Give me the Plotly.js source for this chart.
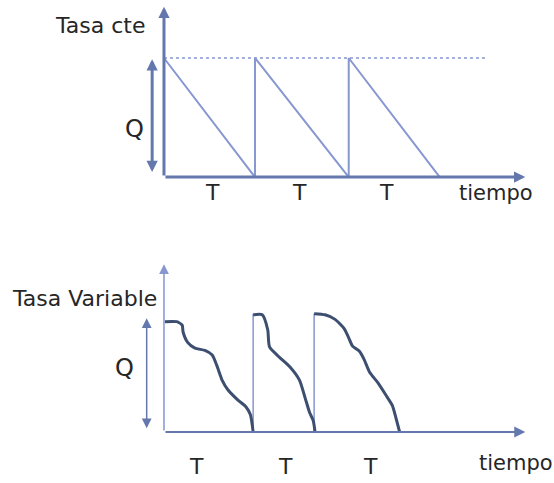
<!DOCTYPE html>
<html>
<head>
<meta charset="utf-8">
<script src="https://cdn.plot.ly/plotly-3.0.1.min.js"></script>
<style>
  html, body { margin: 0; padding: 0; background: #fff; }
  #chart { width: 554px; height: 483px; }
</style>
</head>
<body>
<div id="chart"></div>
<script>
// time in units of T, stock in units of Q
const cteX = [0, 1, 1, 2.03, 2.03, 3.03];
const cteY = [1, 0, 1, 0, 1, 0];
const cteTopX = [0, 3.53];
const cteTopY = [1, 1];

// variable-rate cycles
const var1X = [0.01, 0.14, 0.2, 0.21, 0.26, 0.34, 0.45, 0.53, 0.58, 0.64, 0.7, 0.81, 0.9, 0.95, 0.98];
const var1Y = [0.96, 0.96, 0.93, 0.87, 0.78, 0.73, 0.71, 0.67, 0.58, 0.45, 0.37, 0.28, 0.22, 0.15, 0];
const var2X = [0.98, 1.08, 1.14, 1.16, 1.27, 1.38, 1.49, 1.55, 1.6, 1.64, 1.66];
const var2Y = [1.02, 1.02, 0.89, 0.74, 0.65, 0.57, 0.45, 0.3, 0.17, 0.1, 0];
const var3X = [1.65, 1.77, 1.88, 1.98, 2.03, 2.07, 2.15, 2.2, 2.26, 2.35, 2.44, 2.51, 2.55, 2.59];
const var3Y = [1.03, 1.02, 0.98, 0.9, 0.82, 0.75, 0.7, 0.63, 0.52, 0.43, 0.32, 0.23, 0.12, 0];
const varStepX = [[0.98, 0.98], [1.65, 1.65]];
const varStepY = [0, 1.03];

const tTop = [0.53, 1.49, 2.45];
const tBottom = [0.36, 1.33, 2.27];

const FONT = 'Tahoma, "DejaVu Sans", sans-serif';
const TEXT_COLOR = '#262626';
const AXIS_COLOR = '#6478ad';
const LIGHT = '#8797d0';
const DARK = '#3d4f70';

const traces = [
  {
    x: cteTopX, y: cteTopY, xaxis: 'x', yaxis: 'y',
    mode: 'lines', line: { color: LIGHT, width: 1.5, dash: 'dot' },
  },
  {
    x: cteX, y: cteY, xaxis: 'x', yaxis: 'y',
    mode: 'lines', line: { color: LIGHT, width: 2 },
  },
  ...varStepX.map(xs => ({
    x: xs, y: varStepY, xaxis: 'x', yaxis: 'y2',
    mode: 'lines', line: { color: LIGHT, width: 1.5 },
  })),
  ...[[var1X, var1Y], [var2X, var2Y], [var3X, var3Y]].map(([xs, ys]) => ({
    x: xs, y: ys, xaxis: 'x', yaxis: 'y2',
    mode: 'lines', line: { color: DARK, width: 3, shape: 'spline', smoothing: 0.6 },
  })),
];

function arrow(x, y, ax, ay, yref, width, size, color, both) {
  return {
    x, y, ax, ay, xref: 'x', yref, axref: 'x', ayref: yref,
    text: '', showarrow: true, arrowhead: 2, arrowsize: size,
    arrowwidth: width, arrowcolor: color,
    arrowside: both ? 'end+start' : 'end',
    standoff: 0, startstandoff: 0,
  };
}

function label(text, x, y, yref, size) {
  return {
    text, x, y, xref: 'x', yref, showarrow: false,
    font: { family: FONT, size, color: TEXT_COLOR },
  };
}

const annotations = [
  // top chart axes
  arrow(0, 1.43, 0, 0, 'y', 3, 0.75, AXIS_COLOR),
  arrow(3.97, 0, 0, 0, 'y', 3, 0.75, AXIS_COLOR),
  arrow(-0.13, 0.99, -0.13, 0.03, 'y', 3, 0.75, AXIS_COLOR, true),
  label('Tasa cte', -0.7, 1.27, 'y', 22),
  label('Q', -0.32, 0.4, 'y', 24),
  ...tTop.map(x => label('T', x, -0.13, 'y', 22)),
  label('tiempo', 3.65, -0.13, 'y', 21),
  // bottom chart axes
  arrow(0, 1.46, 0, 0, 'y2', 1.5, 1.3, LIGHT),
  arrow(3.97, 0, 0, 0, 'y2', 2, 1.1, AXIS_COLOR),
  arrow(-0.19, 0.99, -0.19, 0.02, 'y2', 1.5, 1.3, AXIS_COLOR, true),
  label('Tasa Variable', -0.87, 1.16, 'y2', 22),
  label('Q', -0.43, 0.56, 'y2', 24),
  ...tBottom.map(x => label('T', x, -0.3, 'y2', 22)),
  label('tiempo', 3.87, -0.27, 'y2', 21),
];

const hidden = { showgrid: false, zeroline: false, showticklabels: false, showline: false, fixedrange: true };

const layout = {
  width: 554,
  height: 483,
  margin: { t: 0, r: 0, b: 0, l: 0 },
  paper_bgcolor: '#fff',
  plot_bgcolor: '#fff',
  showlegend: false,
  xaxis: { ...hidden, range: [-1.802, 4.286], domain: [0, 1] },
  yaxis: { ...hidden, range: [-0.529, 1.487], domain: [0.503, 1] },
  yaxis2: { ...hidden, range: [-0.443, 1.67], domain: [0, 0.503], anchor: 'x' },
  annotations,
};

Plotly.newPlot('chart', traces, layout, { displayModeBar: false, staticPlot: true });
</script>
</body>
</html>
